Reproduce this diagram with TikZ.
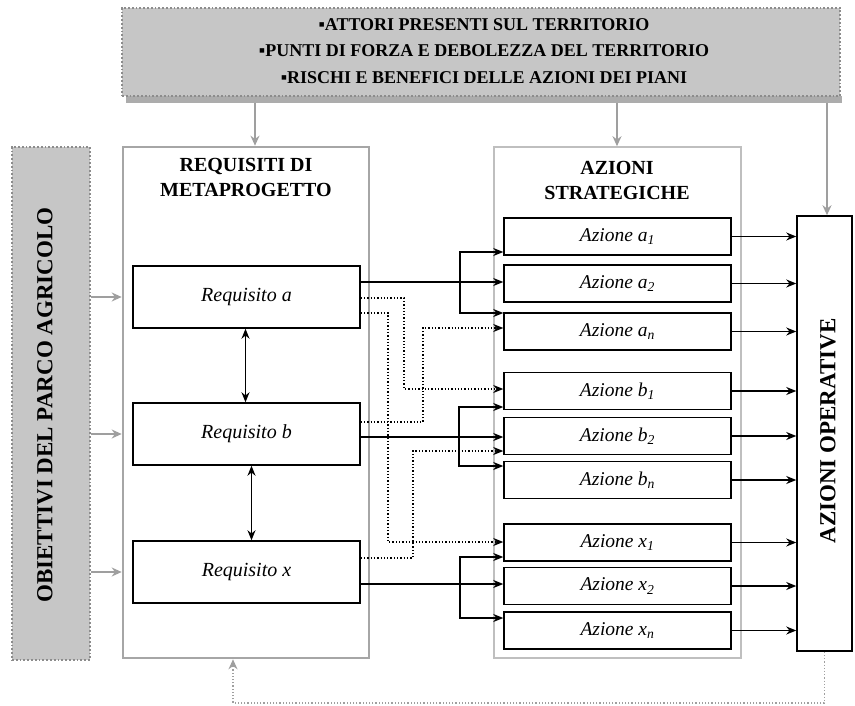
\documentclass[tikz,border=0pt]{standalone}
\usepackage{fontspec}
\setmainfont{Liberation Serif}
\usetikzlibrary{arrows.meta,calc}
\begin{document}
\begin{tikzpicture}[x=1pt,y=-1pt,
  reqnode/.style={draw,line width=1.5pt,minimum width=227pt,minimum height=62pt,inner sep=0pt,font=\fontsize{20}{22}\selectfont\itshape},
  actnode/.style={draw,line width=1.5pt,minimum width=227pt,minimum height=37pt,inner sep=0pt,font=\fontsize{19.5}{21}\selectfont\itshape},
  titletxt/.style={align=center,font=\bfseries\fontsize{20}{25}\selectfont},
  arr/.style={line width=1.3pt,-{Stealth[length=10pt,width=8pt]}},
  darr/.style={line width=1.3pt,dotted,-{Stealth[length=10pt,width=8pt]}},
  dbl/.style={line width=1.3pt,{Stealth[length=10pt,width=8pt]}-{Stealth[length=10pt,width=8pt]}},
  garr/.style={draw=gray!75,line width=1.6pt,-{Stealth[length=10pt,width=9pt]},color=gray!75},
  fbarr/.style={draw=gray!75,line width=1.2pt,dotted,-{Stealth[length=10pt,width=9pt]},color=gray!75},
  greybox/.style={draw=gray!90,fill=gray!45,line width=1.8pt,dotted,inner sep=0pt},
  vtxt/.style={rotate=90,font=\bfseries\fontsize{23}{26}\selectfont},
]
\useasboundingbox (0,0) rectangle (855,706);

% top box with shadow
\fill[gray!65] (126,96) rectangle (842,103);
\node[greybox,minimum width=718pt,minimum height=88pt] (topbox) at (481,52) {};
\node[align=center,font=\bfseries\fontsize{18}{26.5}\selectfont] (toptxt) at (484,51)
  {▪ATTORI PRESENTI SUL TERRITORIO\\▪PUNTI DI FORZA E DEBOLEZZA DEL TERRITORIO\\▪RISCHI E BENEFICI DELLE AZIONI DEI PIANI};

% left box
\node[greybox,minimum width=78pt,minimum height=513pt] (objbox) at (51,403.5) {};
\node[vtxt] (objtxt) at (45,405) {OBIETTIVI DEL PARCO AGRICOLO};

% requisiti container
\node[draw=gray!70,line width=2.6pt,minimum width=246pt,minimum height=511pt,inner sep=0pt] (reqbox) at (246,402.5) {};
\node[titletxt] (reqtitle) at (246,177) {REQUISITI DI\\METAPROGETTO};

\node[reqnode] (reqa) at (246.5,297) {Requisito a};
\node[reqnode] (reqb) at (246.5,434) {Requisito b};
\node[reqnode] (reqx) at (246.5,572) {Requisito x};

% azioni strategiche container
\node[draw=gray!50,line width=1.6pt,minimum width=247pt,minimum height=511pt,inner sep=0pt] (azbox) at (617.5,402.5) {};
\node[titletxt] (aztitle) at (617,180) {AZIONI\\STRATEGICHE};

\node[actnode] (a1) at (617.5,236.5) {Azione a\textsubscript{1}};
\node[actnode] (a2) at (617.5,283.5) {Azione a\textsubscript{2}};
\node[actnode] (an) at (617.5,331.5) {Azione a\textsubscript{n}};
\node[actnode] (b1) at (617.5,391) {Azione b\textsubscript{1}};
\node[actnode] (b2) at (617.5,436) {Azione b\textsubscript{2}};
\node[actnode] (bn) at (617.5,480) {Azione b\textsubscript{n}};
\node[actnode] (x1) at (617.5,542.5) {Azione x\textsubscript{1}};
\node[actnode] (x2) at (617.5,586) {Azione x\textsubscript{2}};
\node[actnode] (xn) at (617.5,630.5) {Azione x\textsubscript{n}};

% azioni operative
\node[draw,line width=1.5pt,minimum width=55pt,minimum height=435pt,inner sep=0pt] (opbox) at (824.5,433.5) {};
\node[vtxt] (optxt) at (828,431) {AZIONI OPERATIVE};

% grey arrows from top box
\coordinate (t1) at (255,103);
\coordinate (t2) at (617,103);
\coordinate (t3) at (827,103);
\draw[garr] (t1) -- (t1 |- reqbox.north);
\draw[garr] (t2) -- (t2 |- azbox.north);
\draw[garr] (t3) -- (t3 |- opbox.north);

% grey arrows from objectives
\draw[garr] (objbox.east |- reqa) -- (reqbox.west |- reqa);
\draw[garr] (objbox.east |- reqb) -- (reqbox.west |- reqb);
\draw[garr] (objbox.east |- reqx) -- (reqbox.west |- reqx);

% double arrows between requisiti
\draw[dbl] ($(reqa.south)+(-1,0)$) -- ($(reqb.north)+(-1,0)$);
\draw[dbl] ($(reqb.south)+(5,0)$) -- ($(reqx.north)+(5,0)$);

% solid connectors
\coordinate (pa) at ($(reqa.east)+(0,-15)$);
\coordinate (pb) at ($(reqb.east)+(0,3)$);
\coordinate (px) at ($(reqx.east)+(0,12)$);
\coordinate (brx) at (460,0);
\draw[arr] (pa) -- (pa -| a2.west);
\draw[arr] (pa -| brx) |- ($(a1.west)+(0,15.5)$);
\draw[arr] (pa -| brx) |- ($(an.west)+(0,-18.5)$);
\draw[arr] (pb) -- (pb -| b2.west);
\draw[arr] ($(pb -| brx)+(-1,0)$) |- ($(b1.west)+(0,16)$);
\draw[arr] ($(pb -| brx)+(-1,0)$) |- ($(bn.west)+(0,-14)$);
\draw[arr] (px) -- (px -| x2.west);
\draw[arr] (px -| brx) |- ($(x1.west)+(0,14.5)$);
\draw[arr] (px -| brx) |- ($(xn.west)+(0,-12.5)$);

% dotted connectors
\draw[darr] ($(reqa.east)+(0,1)$) -| (404,389) -- ($(b1.west)+(0,-2)$);
\draw[darr] ($(reqa.east)+(0,16)$) -| (388,542) -- ($(x1.west)+(0,-0.5)$);
\draw[darr] ($(reqb.east)+(0,-12)$) -| (423,328) -- ($(an.west)+(0,-3.5)$);
\draw[darr] ($(reqx.east)+(0,-14)$) -| (413,451) -- ($(b2.west)+(0,15)$);

% to operative
\foreach \n in {a1,a2,an,b1,b2,bn,x1,x2,xn}
  \draw[arr] (\n.east) -- (\n.east -| opbox.west);

% feedback
\coordinate (fb) at (233,703);
\draw[fbarr] (opbox.south) |- (fb) -- (fb |- reqbox.south);
\end{tikzpicture}
\end{document}
